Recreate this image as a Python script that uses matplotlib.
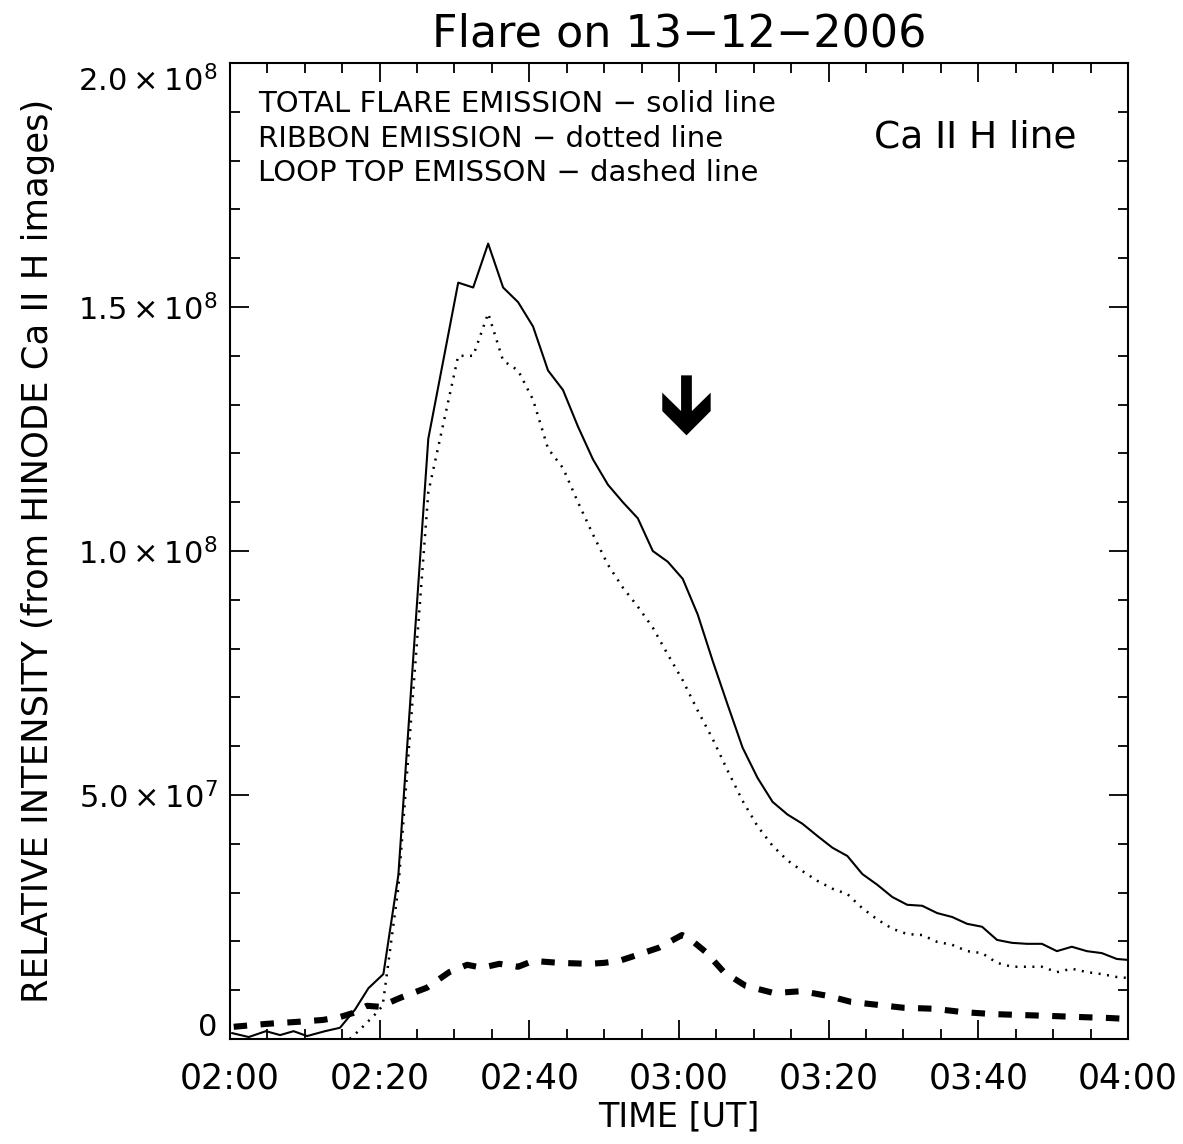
#!/usr/bin/env python
# coding: utf-8

import numpy as np
import matplotlib
matplotlib.use('Agg')
import matplotlib.pyplot as plt
from matplotlib.patches import Polygon
from matplotlib.ticker import MultipleLocator, FuncFormatter
from matplotlib.transforms import ScaledTranslation

#===== CONFIGURATION ==============================#
out_file = 'out.png'
flux_unit = 1e6          # light curves are stored in units of 1e6
title_text = 'Flare on 13\u221212\u22122006'

#===== DATA =======================================#
#-- Minutes after 02:00 UT and relative intensity (x 1e6)
total_time = [0.3, 2.5, 4.8, 6.7, 8.5, 10.3, 12.7, 14.7, 16.7, 18.5,
              20.5, 22.5, 26.5, 30.5, 32.5, 34.5, 36.5, 38.5, 40.5, 42.5,
              44.5, 46.5, 48.5, 50.5, 52.5, 54.5, 56.5, 58.5, 60.5, 62.5,
              64.5, 66.5, 68.5, 70.5, 72.5, 74.5, 76.5, 78.5, 80.5, 82.5,
              84.5, 86.5, 88.5, 90.5, 92.5, 94.5, 96.5, 98.5, 100.5, 102.5,
              104.5, 106.5, 108.5, 110.5, 112.5, 114.5, 116.5, 118.5, 120.0]
total_flux = [1.2, 0.4, 1.6, 0.8, 1.6, 0.6, 1.6, 2.3, 6.0, 10.4,
              13.3, 33.6, 123, 155, 154, 163, 154, 151, 146, 137,
              133, 125.5, 118.8, 113.6, 110, 106.7, 100, 97.8, 94.3, 87,
              77.5, 68.5, 59.7, 53.5, 48.6, 46, 44.1, 41.6, 39.2, 37.5,
              33.8, 31.6, 29.1, 27.5, 27.3, 25.8, 25.0, 23.6, 23.0, 20.3,
              19.7, 19.5, 19.5, 18.0, 18.9, 18.0, 17.6, 16.4, 16.2]

ribbon_time = [16.0, 17.3, 19.3, 20.4, 22.5, 26.5, 30.5, 32.5, 34.5, 36.5,
               38.5, 40.5, 42.5, 44.5, 46.5, 48.5, 50.5, 52.5, 54.5, 56.5,
               58.5, 60.5, 62.5, 64.5, 66.5, 68.5, 70.5, 72.5, 74.5, 76.5,
               78.5, 80.5, 82.5, 84.5, 86.5, 88.5, 90.5, 92.5, 94.5, 96.5,
               98.5, 100.5, 102.5, 104.5, 106.5, 108.5, 110.5, 112.5, 114.5, 116.5,
               118.5, 120.0]
ribbon_flux = [0, 1.8, 4.9, 6.8, 31, 112, 140, 140, 148.7, 139,
               137, 131, 121, 117, 110, 103.4, 97.2, 92.5, 88.6, 84.3,
               78.8, 73.5, 67.3, 61.5, 55.0, 48.8, 43.6, 39.6, 36.6, 34.4,
               32.4, 30.8, 29.7, 26.8, 24.5, 22.6, 21.5, 21.3, 19.9, 19.3,
               18.0, 17.6, 15.6, 14.8, 14.8, 14.8, 13.7, 14.4, 13.7, 13.3,
               12.7, 12.5]

looptop_time = [0.5, 4.9, 8.9, 12.4, 14.7, 16.4, 18.3, 20.0, 22.7, 26.3,
                29.3, 31.7, 33.7, 36.0, 38.5, 40.5, 44.0, 48.0, 50.0, 52.0,
                54.0, 57.3, 60.4, 61.3, 63.6, 66.0, 68.9, 72.7, 76.4, 80.0,
                83.0, 86.5, 90.0, 94.0, 98.0, 102.0, 106.0, 110.0, 113.5, 117.5,
                120.0]
looptop_flux = [2.5, 3.1, 3.5, 3.9, 4.5, 5.3, 6.8, 6.6, 8.4, 10.5,
                13.7, 15.2, 14.6, 15.4, 14.8, 16.0, 15.6, 15.4, 15.6, 16.0,
                17.0, 18.7, 21.3, 20.7, 17.8, 13.7, 10.9, 9.4, 9.8, 8.8,
                7.6, 7.0, 6.4, 6.2, 5.5, 5.1, 4.9, 4.7, 4.5, 4.3,
                4.1]

#-- Axis ticks
time_ticks = [0, 20, 40, 60, 80, 100, 120]
intensity_ticks = [0, 5e7, 1e8, 1.5e8, 2e8]

legend_lines = ['TOTAL FLARE EMISSION \u2212 solid line',
                'RIBBON EMISSION \u2212 dotted line',
                'LOOP TOP EMISSON \u2212 dashed line']

#-- Arrow marking ~03:01 UT (tip position)
arrow_time = 61.0
arrow_tip = 123.7

#===== FUNCTIONS ==================================#
def time_label(minutes, pos):
    total = int(round(minutes)) + 120
    return '%02d:%02d' % (total // 60, total % 60)

def intensity_label(value, pos):
    if value <= 0:
        return '0'
    exp = int(np.floor(np.log10(value) + 1e-9))
    return r'$%.1f\times10^{%d}$' % (value / 10**exp, exp)

def chevron_arrow(head_half=0.242, shaft_half=0.054, head_top=0.427,
                  head_base=0.243, shaft_top=0.60):
    # outline of a block arrow pointing down, in inches relative to its tip
    return [(0, 0), (head_half, head_base), (head_half, head_top),
            (shaft_half, head_base), (shaft_half, shaft_top),
            (-shaft_half, shaft_top), (-shaft_half, head_base),
            (-head_half, head_top), (-head_half, head_base)]

#===== PLOT =======================================#
plt.rcParams['font.family'] = ['DejaVu Sans']
plt.rcParams['mathtext.fontset'] = 'dejavusans'

fig = plt.figure(figsize=(11.83, 11.44), dpi=100)
ax = fig.add_axes([0.1944, 0.0918, 0.7591, 0.8531])

ax.plot(total_time, np.array(total_flux) * flux_unit, color='black', lw=1.5)
ax.plot(ribbon_time, np.array(ribbon_flux) * flux_unit, color='black', lw=1.8,
        dashes=[0.8, 2.6], dash_capstyle='butt')
ax.plot(looptop_time, np.array(looptop_flux) * flux_unit, color='black', lw=4.4,
        dashes=[2.2, 2.2], dash_capstyle='butt')

ax.set_xlim(0, 120)
ax.set_ylim(0, 2e8)

ax.set_xticks(time_ticks)
ax.xaxis.set_minor_locator(MultipleLocator(5))
ax.xaxis.set_major_formatter(FuncFormatter(time_label))
ax.set_yticks(intensity_ticks)
ax.yaxis.set_minor_locator(MultipleLocator(1e7))
ax.yaxis.set_major_formatter(FuncFormatter(intensity_label))

ax.tick_params(which='both', direction='in', top=True, right=True, width=1.3)
ax.tick_params(which='major', length=14)
ax.tick_params(which='minor', length=7)
ax.tick_params(axis='x', labelsize=25, pad=16)
ax.tick_params(axis='y', labelsize=22, pad=9)
for spine in ax.spines.values():
    spine.set_linewidth(1.5)

#-- Keep the end labels of the y axis inside the frame
yticks = ax.yaxis.get_major_ticks()
yticks[0].label1.set_transform(yticks[0].label1.get_transform()
                               + ScaledTranslation(0, 0.14, fig.dpi_scale_trans))
yticks[-1].label1.set_transform(yticks[-1].label1.get_transform()
                                + ScaledTranslation(0, -0.15, fig.dpi_scale_trans))

ax.set_title(title_text, fontsize=32, pad=12)
ax.set_xlabel('TIME [UT]', fontsize=24, labelpad=4)
ax.set_ylabel('RELATIVE INTENSITY (from HINODE Ca II H images)', fontsize=25.5,
              va='center')
ax.yaxis.set_label_coords(-0.2138, 0.5)

for i, line in enumerate(legend_lines):
    ax.text(0.031, 0.958 - i * 0.0355, line, transform=ax.transAxes,
            fontsize=21, ha='left', va='center')
ax.text(0.8295, 0.924, 'Ca II H line', transform=ax.transAxes,
        fontsize=27, ha='center', va='center')

#-- Block arrow, shape in inches anchored at the tip in data coordinates
arrow_trans = fig.dpi_scale_trans + ScaledTranslation(arrow_time, arrow_tip * flux_unit,
                                                      ax.transData)
ax.add_patch(Polygon(chevron_arrow(), closed=True, facecolor='black',
                     edgecolor='none', transform=arrow_trans))

fig.savefig(out_file, dpi=100)
